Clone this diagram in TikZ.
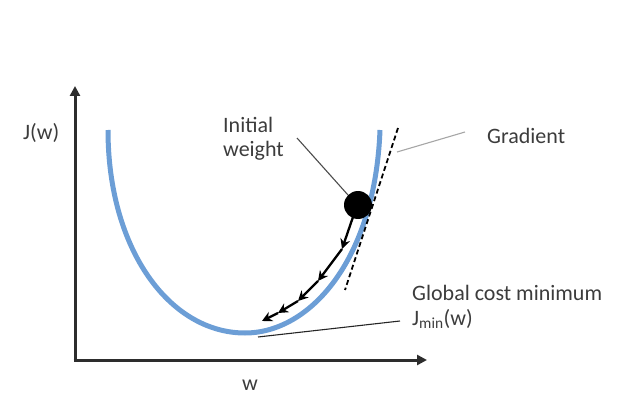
\documentclass[tikz,border=0pt]{standalone}
\usepackage{fontspec}
\setmainfont{Carlito}
\usetikzlibrary{arrows.meta}
\definecolor{curveblue}{RGB}{108,158,214}
\definecolor{txtgray}{RGB}{60,60,60}
\definecolor{axisgray}{RGB}{45,45,45}
\begin{document}
\begin{tikzpicture}[x=1pt,y=-1pt,
  lbl/.style={font=\fontsize{22}{25}\selectfont, text=txtgray, inner sep=0pt, anchor=base west},
  axisline/.style={line width=3pt, draw=axisgray, -{Triangle[length=10pt,width=10pt]}},
  descent/.style={line width=2.3pt, -{Stealth[length=10pt,width=10pt]}},
  pointer/.style={line width=1.1pt, draw=black!70},
  lightpointer/.style={line width=1.1pt, draw=black!35},
  costcurve/.style={line width=5pt, draw=curveblue},
  tangentline/.style={line width=1.8pt, dash pattern=on 5pt off 3pt}
]
\useasboundingbox (0,0) rectangle (633,420);

% axes
\coordinate (O) at (75,360);
\coordinate (ytop) at (75,86);
\coordinate (xend) at (427,360);
\draw[axisline] (O) -- (ytop);
\draw[axisline] ([xshift=-1.5pt]O) -- (xend);

% curve
\draw[costcurve] (108,130) .. controls (108,250) and (170,333) .. (245,333)
  .. controls (310,333) and (375,260) .. (380,130);

% tangent
\coordinate (t1) at (398,128);
\coordinate (t2) at (345,290);
\draw[tangentline] (t1) -- (t2);

% ball
\node[circle, fill=black, minimum size=28pt, inner sep=0pt] (ball) at (358,205) {};

% descent arrows
\coordinate (a0) at (353,217);
\coordinate (a1) at (342,249);
\coordinate (a2) at (318,281);
\coordinate (a3) at (298,301);
\coordinate (a4) at (278,313);
\coordinate (a5) at (262,321);
\draw[descent] (a0) -- (a1);
\draw[descent] (a1) -- (a2);
\draw[descent] (a2) -- (a3);
\draw[descent] (a3) -- (a4);
\draw[descent] (a4) -- (a5);

% labels
\node[lbl] (jw) at (23,140) {J(w)};
\node[lbl, anchor=base] (w) at (250,390) {w};
\node[lbl] (init1) at (223,132) {Initial};
\node[lbl] (init2) at (223,157) {weight};
\node[lbl] (grad) at (487,143) {Gradient};
\node[lbl] (glob) at (412,300) {Global cost minimum};
\node[lbl] (jmin) at (412,325) {J\textsubscript{min}(w)};

% pointers
\coordinate (ip) at (297,138);
\draw[pointer] (ip) -- (ball.north west);
\coordinate (gp1) at (465,132);
\coordinate (gp2) at (397,152);
\draw[lightpointer] (gp1) -- (gp2);
\coordinate (mp1) at (400,321);
\coordinate (mp2) at (258,337);
\draw[pointer, draw=black!85] (mp1) -- (mp2);
\end{tikzpicture}
\end{document}
